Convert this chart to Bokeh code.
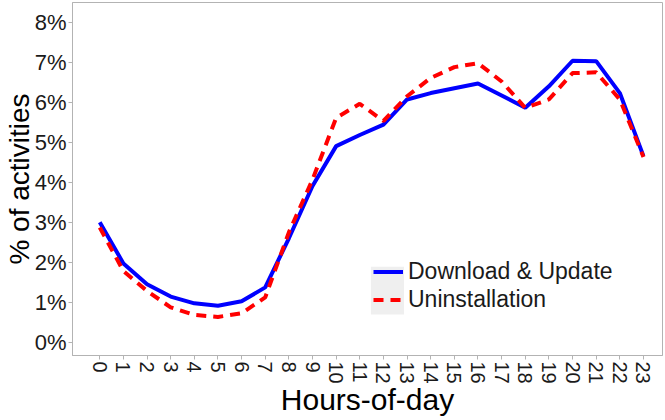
from bokeh.plotting import figure
from bokeh.models import FixedTicker, Range1d, Legend, LegendItem, BoxAnnotation
from bokeh.embed import file_html
from bokeh.resources import INLINE

# ---- data ----
hours = list(range(24))
hour_labels = [str(h) for h in hours]
download_update = [3.00, 1.97, 1.45, 1.14, 0.97, 0.91, 1.02, 1.37, 2.60, 3.91, 4.91, 5.19,
                   5.45, 6.08, 6.24, 6.36, 6.48, 6.18, 5.87, 6.41, 7.05, 7.04, 6.24, 4.66]
uninstallation = [2.87, 1.78, 1.28, 0.87, 0.68, 0.63, 0.72, 1.12, 2.75, 4.07, 5.62, 5.97,
                  5.54, 6.16, 6.62, 6.89, 6.99, 6.53, 5.87, 6.08, 6.74, 6.76, 6.08, 4.64]
y_ticks = [0, 1, 2, 3, 4, 5, 6, 7, 8]
y_tick_labels = ["0%", "1%", "2%", "3%", "4%", "5%", "6%", "7%", "8%"]
series_names = ["Download & Update", "Uninstallation"]

FONT = "Liberation Sans"
GRAY = "#b3b3b3"

p = figure(width=663, height=418, output_backend="svg", toolbar_location=None,
           x_range=Range1d(-1.153, 23.805), y_range=Range1d(-0.3375, 8.51),
           min_border_left=71, min_border_right=1, min_border_top=2, min_border_bottom=62)

p.xgrid.visible = False
p.ygrid.visible = False
p.outline_line_color = GRAY
p.outline_line_width = 1
p.background_fill_color = "white"

# legend key background
p.add_layout(BoxAnnotation(left=11.47, right=12.87, bottom=0.69, top=1.89,
                           fill_color="#efefef", fill_alpha=1.0, line_alpha=0, level="underlay"))

r1 = p.line(hours, download_update, line_color="#0000FF", line_width=4)
r2 = p.line(hours, uninstallation, line_color="#FF0000", line_width=4, line_dash="10 7")

# axes
p.xaxis.ticker = FixedTicker(ticks=hours)
p.xaxis.major_label_overrides = {h: lab for h, lab in zip(hours, hour_labels)}
p.xaxis.major_label_orientation = "vertical"
p.yaxis.ticker = FixedTicker(ticks=y_ticks)
p.yaxis.major_label_overrides = {t: lab for t, lab in zip(y_ticks, y_tick_labels)}

for ax in (p.xaxis[0], p.yaxis[0]):
    ax.axis_line_color = GRAY
    ax.major_tick_line_color = GRAY
    ax.major_tick_out = 4
    ax.major_tick_in = 0
    ax.minor_tick_line_color = None
    ax.major_label_text_font = FONT
    ax.major_label_text_color = "#1a1a1a"
    ax.major_label_standoff = 2
    ax.axis_label_text_font = FONT
    ax.axis_label_text_font_style = "normal"
    ax.axis_label_text_color = "black"
    ax.axis_label_standoff = 0

p.xaxis.major_label_text_font_size = "20px"
p.yaxis.major_label_text_font_size = "22px"
p.xaxis.axis_label = "Hours-of-day"
p.xaxis.axis_label_text_font_size = "30px"
p.xaxis.axis_label_standoff = -4
p.yaxis.axis_label = "% of activities"
p.yaxis.axis_label_text_font_size = "28px"
p.yaxis.axis_label_standoff = -3

legend = Legend(items=[LegendItem(label=series_names[0], renderers=[r1]),
                       LegendItem(label=series_names[1], renderers=[r2])],
                location=(301, 42))
legend.background_fill_alpha = 0
legend.border_line_alpha = 0
legend.label_text_font = FONT
legend.label_text_font_size = "23px"
legend.label_text_color = "#1a1a1a"
legend.glyph_width = 30
legend.glyph_height = 23
legend.label_height = 23
legend.spacing = 1
legend.padding = 0
legend.margin = 0
legend.label_standoff = 5
p.add_layout(legend)

open("out.html", "w").write(file_html(p, INLINE))
